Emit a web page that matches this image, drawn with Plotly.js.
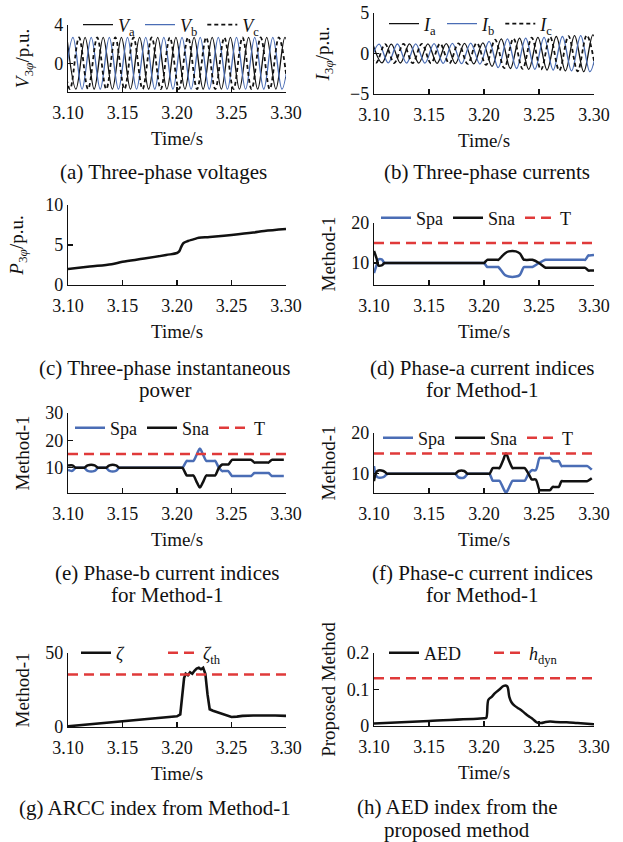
<!DOCTYPE html>
<html>
<head>
<meta charset="utf-8">
<script src="https://cdn.plot.ly/plotly-3.0.1.min.js"></script>
<style>html,body{margin:0;padding:0;background:#fff;}#chart{width:623px;height:842px;}</style>
</head>
<body>
<div id="chart"></div>
<script>
// ---------- DATA ----------
const xTickVals = [3.10, 3.15, 3.20, 3.25, 3.30];
const xTickText = ['3.10', '3.15', '3.20', '3.25', '3.30'];

// (a)/(b) peak instants of each phase (s)
const tA = [3.0990,3.1073,3.1157,3.1240,3.1323,3.1407,3.1490,3.1573,3.1657,3.1740,3.1823,3.1907,3.1990,3.2073,3.2157,3.2240,3.2323,3.2407,3.2490,3.2573,3.2657,3.2740,3.2823,3.2907,3.2990,3.3073];
const tB = [3.0963,3.1046,3.1129,3.1213,3.1296,3.1379,3.1463,3.1546,3.1629,3.1713,3.1796,3.1879,3.1963,3.2046,3.2129,3.2213,3.2296,3.2379,3.2463,3.2546,3.2629,3.2713,3.2796,3.2879,3.2963,3.3046];
const tC = [3.0934,3.1018,3.1101,3.1184,3.1268,3.1351,3.1434,3.1518,3.1601,3.1684,3.1768,3.1851,3.1934,3.2018,3.2101,3.2184,3.2268,3.2351,3.2434,3.2518,3.2601,3.2684,3.2768,3.2851,3.2934,3.3018];
// (a) voltage peaks (p.u.)
const vA = [2.7,-2.7,2.7,-2.7,2.7,-2.7,2.7,-2.7,2.7,-2.7,2.7,-2.7,2.7,-2.7,2.7,-2.7,2.7,-2.7,2.7,-2.7,2.7,-2.7,2.7,-2.7,2.7,-2.7];
const vB = [-2.7,2.7,-2.7,2.7,-2.7,2.7,-2.7,2.7,-2.7,2.7,-2.7,2.7,-2.7,2.7,-2.7,2.7,-2.7,2.7,-2.7,2.7,-2.7,2.7,-2.7,2.7,-2.7,2.7];
const vC = [2.7,-2.7,2.7,-2.7,2.7,-2.7,2.7,-2.7,2.7,-2.7,2.7,-2.7,2.7,-2.7,2.7,-2.7,2.7,-2.7,2.7,-2.7,2.7,-2.7,2.7,-2.7,2.7,-2.7];
// (b) current peaks (p.u.)
const iA = [1.15,-1.15,1.16,-1.17,1.18,-1.19,1.2,-1.21,1.22,-1.24,1.26,-1.28,1.3,-1.6,1.8,-1.85,1.9,-1.95,2.0,-2.05,2.1,-2.15,2.2,-2.25,2.3,-2.35];
const iB = [-1.15,1.15,-1.16,1.17,-1.18,1.19,-1.2,1.21,-1.22,1.24,-1.26,1.28,-1.3,1.5,-1.75,1.8,-1.85,1.9,-1.95,2.0,-2.05,2.1,-2.15,2.2,-2.25,2.3];
const iC = [1.15,-1.15,1.16,-1.17,1.18,-1.19,1.2,-1.21,1.22,-1.24,1.26,-1.28,1.3,-1.4,1.7,-1.8,1.85,-1.9,1.95,-2.0,2.05,-2.1,2.15,-2.2,2.25,-2.3];

// (c) three-phase instantaneous power
const pT = [3.100,3.120,3.140,3.150,3.170,3.190,3.200,3.202,3.204,3.206,3.210,3.215,3.220,3.230,3.250,3.270,3.280,3.300];
const pV = [2.0,2.3,2.6,2.9,3.3,3.75,4.0,4.2,4.8,5.25,5.5,5.7,5.9,6.0,6.25,6.55,6.75,7.0];

// (d) phase-a indices
const dT   = [3.100,3.1025,3.104,3.107,3.1095,3.111,3.199,3.200,3.203,3.204,3.212,3.213,3.219,3.2225,3.229,3.2325,3.236,3.237,3.243,3.244,3.250,3.256,3.257,3.291,3.292,3.295,3.296,3.300];
const dSpa = [7.5,9.6,10.9,10.9,10.0,10.0,10.0,10.0,9.0,9.0,9.0,9.0,7.0,6.6,6.6,7.0,8.9,9.0,9.0,9.0,10.0,10.8,10.8,10.8,10.8,11.9,11.9,12.0];
const dSna = [13.0,11.0,9.4,9.4,10.0,10.0,10.0,10.0,10.8,10.8,10.8,10.8,12.4,12.9,12.9,12.4,10.9,10.8,10.8,10.8,10.0,8.8,8.8,8.8,8.8,8.1,8.1,8.1];
const tT   = [3.10, 3.30];
const dThr = [15, 15];

// (e) phase-b indices
const eT   = [3.100,3.104,3.107,3.108,3.114,3.115,3.118,3.1245,3.1275,3.1285,3.134,3.135,3.138,3.144,3.147,3.148,3.204,3.205,3.209,3.210,3.214,3.215,3.2185,3.221,3.2235,3.227,3.228,3.234,3.235,3.2385,3.2415,3.2425,3.246,3.247,3.2505,3.2515,3.267,3.268,3.271,3.272,3.283,3.284,3.287,3.288,3.298];
const eSpa = [9.2,8.9,10,10,10,10,8.9,8.9,10,10,10,10,8.9,8.9,10,10,10,10,12.5,12.5,12.5,12.5,15.2,17.0,15.2,12.5,12.5,12.5,12.5,10.0,8.8,8.8,8.8,8.8,7.0,7.0,7.0,7.0,8.1,8.1,8.1,8.1,7.0,7.0,7.0];
const eSna = [10.8,10.9,10,10,10,10,10.9,10.9,10,10,10,10,10.9,10.9,10,10,10,10,7.2,7.2,7.2,7.2,4.5,2.8,4.5,7.2,7.2,7.2,7.2,10.0,11.2,11.2,11.2,11.2,12.9,12.9,12.9,12.9,11.9,11.9,11.9,11.9,12.9,12.9,12.9];
const eThr = [15, 15];

// (f) phase-c indices
const fT   = [3.100,3.103,3.1085,3.112,3.113,3.173,3.174,3.177,3.182,3.185,3.186,3.204,3.205,3.208,3.209,3.213,3.214,3.2175,3.220,3.2225,3.226,3.227,3.236,3.237,3.2405,3.2435,3.2445,3.247,3.2505,3.2515,3.259,3.260,3.2625,3.2635,3.267,3.268,3.2705,3.2715,3.293,3.294,3.298];
const fSpa = [11.9,9.2,9.2,10,10,10,10,9.1,9.1,10,10,10,10,8.3,8.3,8.3,8.3,6.5,5.4,6.5,8.3,8.3,8.3,8.3,10.0,10.9,10.9,10.9,13.9,13.9,13.9,13.9,13.1,13.1,13.1,13.1,11.9,11.9,11.9,11.9,11.0];
const fSna = [8.2,10.7,10.7,10,10,10,10,10.7,10.7,10,10,10,10,11.4,11.4,11.4,11.4,13.4,15.0,13.4,11.4,11.4,11.4,11.4,10.0,8.6,8.6,8.6,6.0,6.0,6.0,6.0,6.8,6.8,6.8,6.8,8.2,8.2,8.2,8.2,8.9];
const fThr = [15, 15];

// (g) ARCC index
const gT    = [3.100,3.110,3.120,3.130,3.140,3.150,3.160,3.170,3.180,3.190,3.200,3.203,3.205,3.2065,3.208,3.210,3.212,3.214,3.216,3.218,3.220,3.222,3.224,3.226,3.228,3.230,3.233,3.237,3.241,3.245,3.250,3.255,3.260,3.270,3.280,3.290,3.300];
const gZeta = [0.5,1.2,2.0,2.7,3.4,4.1,4.7,5.4,6.0,6.6,7.2,8.5,22,33,36,35,37,36,38,39.5,40,39,40,36,22,12,11,10,9,8,6.8,7,7.5,7.8,8,7.8,7.5];
const gThr  = [35.5, 35.5];

// (h) AED index
const hT   = [3.100,3.150,3.200,3.202,3.204,3.207,3.210,3.214,3.218,3.221,3.223,3.225,3.228,3.232,3.236,3.240,3.244,3.248,3.252,3.256,3.260,3.265,3.275,3.285,3.300];
const hAED = [0.007,0.014,0.021,0.022,0.072,0.080,0.090,0.100,0.110,0.109,0.080,0.065,0.055,0.047,0.038,0.028,0.020,0.010,0.008,0.011,0.012,0.011,0.010,0.008,0.005];
const hThr = [0.131, 0.131];

// ---------- STYLE ----------
const BLUE = '#4a6db5', RED = '#e03a3a', BLK = '#111111';
const FONT = 'Liberation Serif';
const W = 623, H = 842;
const px = v => v / W, py = v => 1 - v / H;

function tr(x, y, name, color, width, dash, xa, ya, leg, shape) {
  return {x, y, name, type: 'scatter', mode: 'lines',
    line: {color, width, dash: dash || 'solid', shape: shape || 'linear', smoothing: 1},
    xaxis: xa, yaxis: ya, legend: leg, hoverinfo: 'skip'};
}

const data = [
  tr(tA, vA, '<i>V</i><sub>a</sub>', BLK, 1.3, 'solid', 'x', 'y', 'legend', 'spline'),
  tr(tB, vB, '<i>V</i><sub>b</sub>', BLUE, 1.3, 'solid', 'x', 'y', 'legend', 'spline'),
  tr(tC, vC, '<i>V</i><sub>c</sub>', BLK, 1.8, '4px,3px', 'x', 'y', 'legend', 'spline'),
  tr(tA, iA, '<i>I</i><sub>a</sub>', BLK, 1.3, 'solid', 'x2', 'y2', 'legend2', 'spline'),
  tr(tB, iB, '<i>I</i><sub>b</sub>', BLUE, 1.3, 'solid', 'x2', 'y2', 'legend2', 'spline'),
  tr(tC, iC, '<i>I</i><sub>c</sub>', BLK, 1.8, '4px,3px', 'x2', 'y2', 'legend2', 'spline'),
  Object.assign(tr(pT, pV, 'P', BLK, 2.5, 'solid', 'x3', 'y3', 'legend3', 'spline'), {showlegend: false}),
  tr(dT, dSpa, 'Spa', BLUE, 2.5, 'solid', 'x4', 'y4', 'legend4', 'spline'),
  tr(dT, dSna, 'Sna', BLK, 2.5, 'solid', 'x4', 'y4', 'legend4', 'spline'),
  tr(tT, dThr, 'T', RED, 2.5, '10px,6px', 'x4', 'y4', 'legend4'),
  tr(eT, eSpa, 'Spa', BLUE, 2.5, 'solid', 'x5', 'y5', 'legend5', 'spline'),
  tr(eT, eSna, 'Sna', BLK, 2.5, 'solid', 'x5', 'y5', 'legend5', 'spline'),
  tr(tT, eThr, 'T', RED, 2.5, '10px,6px', 'x5', 'y5', 'legend5'),
  tr(fT, fSpa, 'Spa', BLUE, 2.5, 'solid', 'x6', 'y6', 'legend6', 'spline'),
  tr(fT, fSna, 'Sna', BLK, 2.5, 'solid', 'x6', 'y6', 'legend6', 'spline'),
  tr(tT, fThr, 'T', RED, 2.5, '10px,6px', 'x6', 'y6', 'legend6'),
  tr(gT, gZeta, '<i>ζ</i>', BLK, 2.6, 'solid', 'x7', 'y7', 'legend7'),
  tr(tT, gThr, '<i>ζ</i><sub>th</sub>', RED, 2.5, '10px,6px', 'x7', 'y7', 'legend7'),
  tr(hT, hAED, 'AED', BLK, 2.5, 'solid', 'x8', 'y8', 'legend8', 'spline'),
  tr(tT, hThr, '<i>h</i><sub>dyn</sub>', RED, 2.5, '10px,6px', 'x8', 'y8', 'legend8')
];

function xax(l, r, anchor) {
  return {domain: [px(l), px(r)], anchor, range: [3.1, 3.3], tickvals: xTickVals, ticktext: xTickText,
    ticks: 'inside', ticklen: 5, tickwidth: 1.2, tickcolor: BLK, showline: true, linecolor: BLK, linewidth: 1.2,
    ticklabelstandoff: 4,
    showgrid: false, zeroline: false, tickfont: {size: 18, family: FONT, color: BLK},
    title: {text: 'Time/s', standoff: 10, font: {size: 19, family: FONT, color: BLK}}};
}
function yax(top, bot, anchor, range, dtick, title, standoff) {
  return {domain: [py(bot), py(top)], anchor, range, dtick, tick0: 0,
    ticks: 'inside', ticklen: 5, tickwidth: 1.2, tickcolor: BLK, showline: true, linecolor: BLK, linewidth: 1.2,
    showgrid: false, zeroline: false, tickfont: {size: 18, family: FONT, color: BLK},
    title: {text: title, standoff, font: {size: 19, family: FONT, color: BLK}}};
}
function leg(x, y, ew) {
  const o = {orientation: 'h', x: px(x), y: py(y), xanchor: 'left', yanchor: 'middle', bgcolor: 'rgba(0,0,0,0)',
    font: {size: 18, family: FONT, color: BLK}, itemwidth: 30, tracegroupgap: 0};
  if (ew) { o.entrywidth = ew; o.entrywidthmode = 'pixels'; }
  return o;
}
function cap(x, y, text) {
  return {xref: 'paper', yref: 'paper', x: px(x), y: py(y), text, showarrow: false, xanchor: 'center', yanchor: 'middle',
    font: {size: 21, family: FONT, color: BLK}, align: 'center'};
}

const L0 = 68, L1 = 286, R0 = 374, R1 = 594;
const layout = {
  width: W, height: H, margin: {l: 0, r: 0, t: 0, b: 0}, paper_bgcolor: '#fff', plot_bgcolor: '#fff',
  font: {family: FONT, color: BLK}, showlegend: true,
  xaxis: xax(L0, L1, 'y'), yaxis: yax(25, 92, 'x', [-3, 4], 4, '<i>V</i><sub>3<i>φ</i></sub>/p.u.', 19),
  xaxis2: xax(R0, R1, 'y2'), yaxis2: yax(13, 94, 'x2', [-5, 5], 5, '<i>I</i><sub>3<i>φ</i></sub>/p.u.', 15),
  xaxis3: xax(L0, L1, 'y3'), yaxis3: yax(205, 285, 'x3', [0, 10], 5, '<i>P</i><sub>3<i>φ</i></sub>/p.u.', 16),
  xaxis4: xax(R0, R1, 'y4'), yaxis4: yax(223, 285, 'x4', [4.5, 20], 10, 'Method-1', 10),
  xaxis5: xax(L0, L1, 'y5'), yaxis5: yax(413, 493, 'x5', [0.8, 30], 10, 'Method-1', 10),
  xaxis6: xax(R0, R1, 'y6'), yaxis6: yax(433, 493, 'x6', [5.3, 20], 10, 'Method-1', 10),
  xaxis7: xax(L0, L1, 'y7'), yaxis7: yax(653, 727, 'x7', [0, 50], 50, 'Method-1', 10),
  xaxis8: xax(R0, R1, 'y8'), yaxis8: yax(653, 726, 'x8', [0, 0.2], 0.1, 'Proposed Method', 6),
  legend: leg(78, 25), legend2: leg(384, 24), legend4: leg(376, 218),
  legend5: leg(70, 428), legend6: leg(378, 438), legend7: leg(76, 653, 42), legend8: leg(384, 653, 60),
  annotations: [
    cap(163, 172, '(a) Three-phase voltages'),
    cap(487, 172, '(b) Three-phase currents'),
    cap(165, 368, '(c) Three-phase instantaneous'),
    cap(165, 390, 'power'),
    cap(482, 368, '(d) Phase-a current indices'),
    cap(482, 390, 'for Method-1'),
    cap(167, 573, '(e) Phase-b current indices'),
    cap(167, 595, 'for Method-1'),
    cap(482, 573, '(f) Phase-c current indices'),
    cap(482, 595, 'for Method-1'),
    cap(155, 808, '(g) ARCC index from Method-1'),
    cap(457, 807, '(h) AED index from the'),
    cap(457, 830, 'proposed method')
  ]
};

Plotly.newPlot('chart', data, layout, {staticPlot: true, displayModeBar: false});
</script>
</body>
</html>
